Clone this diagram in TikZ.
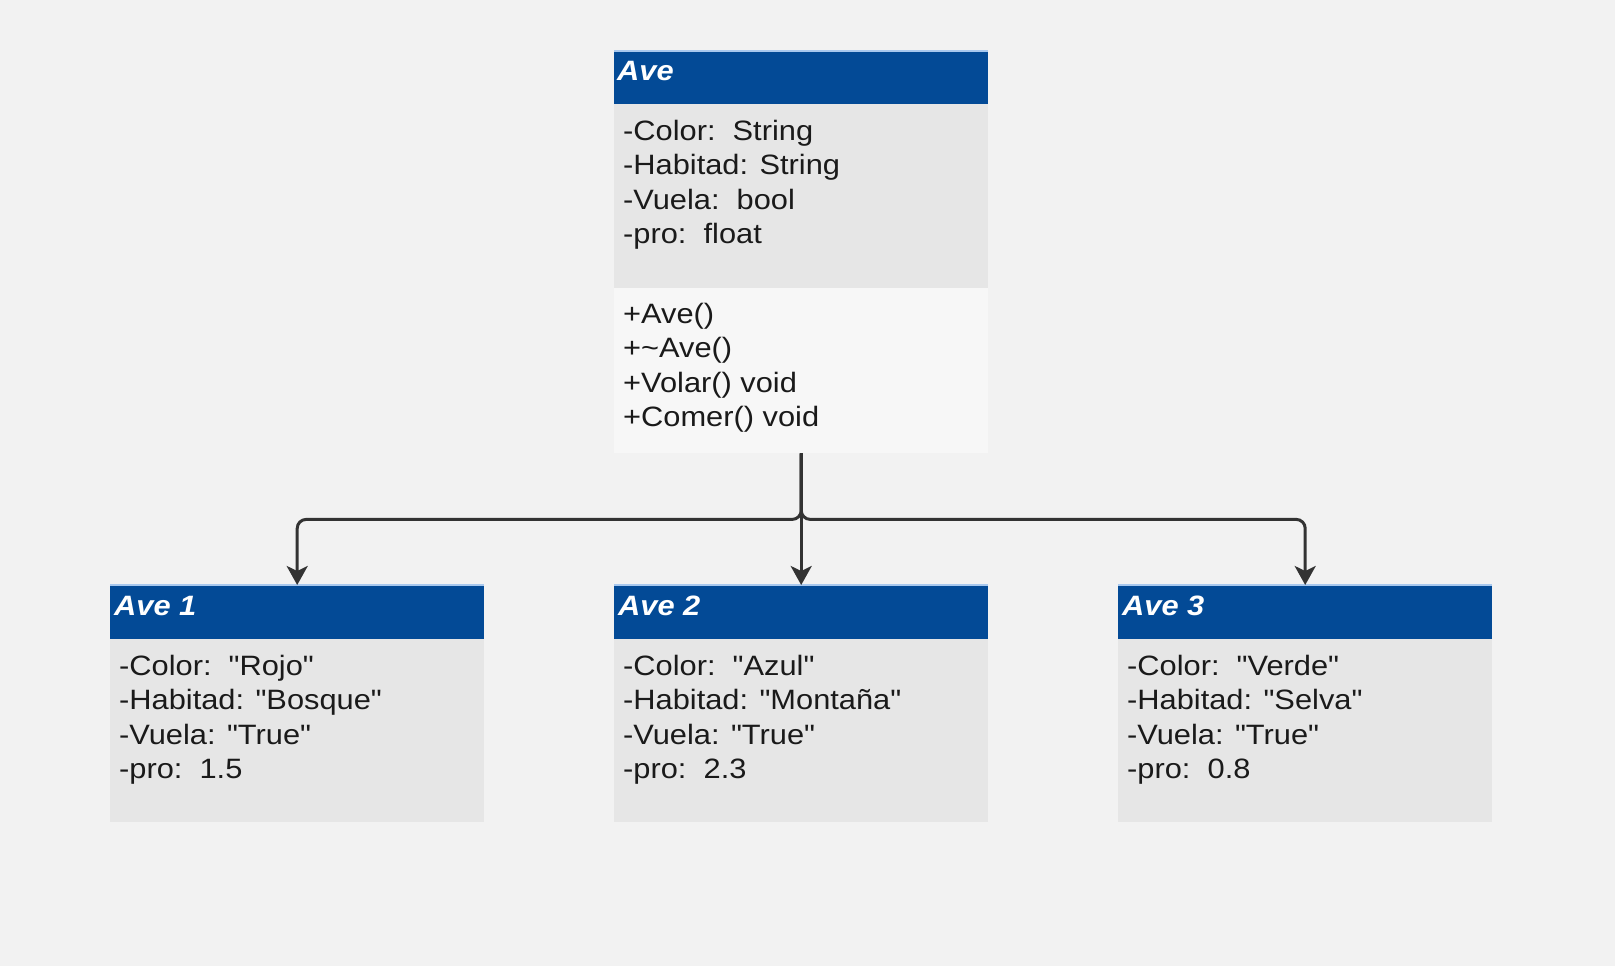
\documentclass[tikz,border=0pt]{standalone}
\usepackage{fontspec}
\newfontfamily\umlfont{Liberation Sans}[FakeStretch=1.1]
\usetikzlibrary{arrows.meta}
\definecolor{bgc}{HTML}{F2F2F2}
\definecolor{hdc}{HTML}{034A96}
\definecolor{atc}{HTML}{E6E6E6}
\definecolor{mtc}{HTML}{F7F7F7}
\definecolor{lnc}{HTML}{333333}
\definecolor{txc}{HTML}{1A1A1A}
\definecolor{edc}{HTML}{A8C8EE}
\tikzset{
  box/.style={rectangle, draw=none, inner sep=0pt, anchor=north west},
  hdtext/.style={anchor=base west, inner sep=0pt, text=white, font=\umlfont\fontsize{28}{34.5}\selectfont\bfseries\itshape},
  ln/.style={anchor=base west, inner sep=0pt, text=txc, font=\umlfont\fontsize{28}{34.5}\selectfont},
  conn/.style={draw=lnc, line width=3pt, rounded corners=9pt, -{Stealth[length=19pt,width=21pt,inset=5pt]}},
}
\begin{document}
\begin{tikzpicture}[x=1pt,y=-1pt]
\fill[bgc] (0,0) rectangle (1615,966);
\useasboundingbox (0,0) rectangle (1615,966);
% top class
\node[box, fill=hdc, minimum width=374pt, minimum height=53pt] (th) at (614,51) {};
\node[box, fill=atc, minimum width=374pt, minimum height=184pt] (ta) at (614,104) {};
\node[box, fill=mtc, minimum width=374pt, minimum height=165pt] (tm) at (614,288) {};
\draw[edc, line width=1.2pt] (th.north west) -- (th.north east);
\node[hdtext] (tht) at (617,81) {Ave};
\node[ln] (ta1) at (623,140) {-Color:\ \ String};
\node[ln] (ta2) at (623,174.5) {-Habitad: String};
\node[ln] (ta3) at (623,209) {-Vuela:\ \ bool};
\node[ln] (ta4) at (623,243.5) {-pro:\ \ float};
\node[ln] (tm1) at (623,323) {+Ave()};
\node[ln] (tm2) at (623,357.5) {+\textasciitilde Ave()};
\node[ln] (tm3) at (623,392) {+Volar() void};
\node[ln] (tm4) at (623,426.5) {+Comer() void};
% Ave 1
\node[box, fill=hdc, minimum width=374pt, minimum height=54pt] (h1) at (110,585) {};
\node[box, fill=atc, minimum width=374pt, minimum height=183pt] (a1) at (110,639) {};
\draw[edc, line width=1.2pt] (h1.north west) -- (h1.north east);
\node[hdtext] (h1t) at (114,615) {Ave 1};
\node[ln] (a11) at (119,675) {-Color:\ \ "Rojo"};
\node[ln] (a12) at (119,709.5) {-Habitad: "Bosque"};
\node[ln] (a13) at (119,744) {-Vuela: "True"};
\node[ln] (a14) at (119,778.5) {-pro:\ \ 1.5};
% Ave 2
\node[box, fill=hdc, minimum width=374pt, minimum height=54pt] (h2) at (614,585) {};
\node[box, fill=atc, minimum width=374pt, minimum height=183pt] (a2) at (614,639) {};
\draw[edc, line width=1.2pt] (h2.north west) -- (h2.north east);
\node[hdtext] (h2t) at (618,615) {Ave 2};
\node[ln] (a21) at (623,675) {-Color:\ \ "Azul"};
\node[ln] (a22) at (623,709.5) {-Habitad: "Montaña"};
\node[ln] (a23) at (623,744) {-Vuela: "True"};
\node[ln] (a24) at (623,778.5) {-pro:\ \ 2.3};
% Ave 3
\node[box, fill=hdc, minimum width=374pt, minimum height=54pt] (h3) at (1118,585) {};
\node[box, fill=atc, minimum width=374pt, minimum height=183pt] (a3) at (1118,639) {};
\draw[edc, line width=1.2pt] (h3.north west) -- (h3.north east);
\node[hdtext] (h3t) at (1122,615) {Ave 3};
\node[ln] (a31) at (1127,675) {-Color:\ \ "Verde"};
\node[ln] (a32) at (1127,709.5) {-Habitad: "Selva"};
\node[ln] (a33) at (1127,744) {-Vuela: "True"};
\node[ln] (a34) at (1127,778.5) {-pro:\ \ 0.8};
% connectors
\draw[conn] (tm.south) -- ++(0,66) -| (h1.north);
\draw[conn] (tm.south) -- ++(0,66) -| (h3.north);
\draw[conn] (tm.south) -- (h2.north);
\end{tikzpicture}
\end{document}
